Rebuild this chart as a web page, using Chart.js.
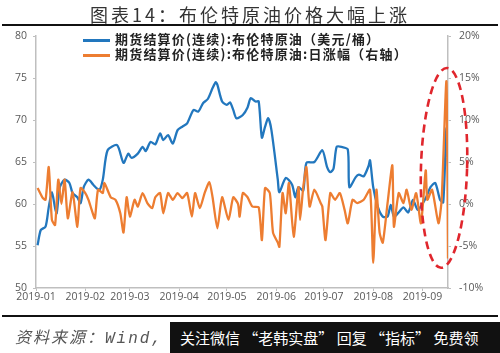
<!DOCTYPE html>
<html>
<head>
<meta charset="utf-8">
<script src="https://cdn.jsdelivr.net/npm/chart.js@4.4.0/dist/chart.umd.min.js"></script>
<style>
body { margin: 0; background: #fff; }
#wrap { position: relative; width: 500px; height: 353px; overflow: hidden; background: #fff; }
#chart { position: absolute; left: 0; top: 0; }
.title { position: absolute; left: 0; width: 500px; top: 1px; text-align: center; font: 18px "Noto Sans CJK SC"; letter-spacing: 3px; color: #333; }
.rule { position: absolute; left: 2px; width: 496px; height: 2px; background: #111; }
.legend { position: absolute; left: 83px; font: bold 13px "Noto Sans CJK SC"; letter-spacing: 1.2px; color: #222; line-height: 15px; }
.legend span.swatch { display: inline-block; width: 27px; height: 2.5px; vertical-align: middle; margin-right: 5px; }
.source { position: absolute; left: 15px; top: 324px; font: italic 16px "Liberation Mono", "Noto Sans CJK SC"; letter-spacing: 2px; color: #555; }
.mark { position: absolute; left: 170px; top: 322px; width: 330px; height: 31px; background: #111; color: #fff; font: 15px "Noto Sans CJK SC"; line-height: 31px; padding-left: 10px; box-sizing: border-box; white-space: nowrap; }
</style>
</head>
<body>
<div id="wrap">
  <canvas id="chart" width="500" height="353"></canvas>
  <div class="title">图表14：布伦特原油价格大幅上涨</div>
  <div class="rule" style="top:24px"></div>
  <div class="legend" style="top:31px"><span class="swatch" style="background:#2277be"></span>期货结算价(连续):布伦特原油（美元/桶）</div>
  <div class="legend" style="top:46px"><span class="swatch" style="background:#ed7d31"></span>期货结算价(连续):布伦特原油:日涨幅（右轴）</div>
  <div class="rule" style="top:315px"></div>
  <div class="source">资料来源：Wind,</div>
  <div class="mark">关注微信 “老韩实盘” 回复 “指标” 免费领</div>
</div>
<script>
// days counted from 2019-01-01
const monthStarts = [0, 31, 59, 90, 120, 151, 181, 212, 243];
const monthLabels = ['2019-01', '2019-02', '2019-03', '2019-04', '2019-05', '2019-06', '2019-07', '2019-08', '2019-09'];

// Brent settle price, USD/bbl (left axis)
const priceDays = [1, 3, 6, 8, 10, 12, 13, 15, 18, 21,
    23, 26, 28, 30, 33, 36, 38, 40, 42, 45,
    51, 55, 58, 60, 64, 67, 69, 72, 75, 78,
    80, 83, 86, 89, 92, 95, 99, 102, 105, 108,
    111, 113, 114, 117, 120, 122, 124, 126, 130, 133,
    135, 138, 140, 142, 144, 146, 148, 152, 153, 157,
    161, 163, 165, 168, 170, 175, 180, 183, 185, 187,
    189, 192, 196, 197, 201, 203, 206, 209, 210, 212,
    215, 218, 221, 223, 225, 228, 231, 234, 237, 240,
    245, 248, 251, 254, 256, 258, 259];
const price = [55.1, 56.9, 57.3, 59.6, 61.4, 59.5, 58.9, 62.0, 62.9, 62.5,
    61.3, 60.8, 60.1, 62.0, 62.9, 62.3, 61.9, 61.7, 62.9, 66.4,
    67.0, 64.9, 66.0, 65.5, 66.0, 66.8, 66.3, 67.4, 67.1, 68.4,
    67.6, 68.2, 67.2, 68.8, 69.2, 69.6, 71.2, 71.0, 72.0, 72.5,
    73.8, 74.5, 74.2, 72.2, 71.8, 72.1, 71.2, 70.2, 70.6, 71.5,
    72.6, 72.2, 72.2, 67.9, 69.2, 70.2, 68.8, 62.9, 61.4, 63.1,
    62.3, 60.8, 62.0, 61.6, 64.9, 65.0, 66.4, 64.4, 63.8, 64.2,
    66.8, 66.8, 66.5, 62.0, 63.2, 63.5, 63.3, 64.5, 65.2, 62.0,
    59.6, 58.5, 58.5, 59.9, 58.5, 59.0, 59.6, 59.0, 60.5, 59.3,
    60.7, 62.0, 62.5, 60.5, 60.2, 69.0, 64.5];

// daily change, % (right axis)
const changeDays = [1, 4, 6, 8, 10, 12, 14, 16, 18, 20,
    23, 26, 28, 31, 33, 35, 37, 39, 42, 43,
    47, 50, 53, 55, 57, 59, 62, 64, 67, 70,
    73, 75, 78, 80, 83, 86, 89, 92, 95, 98,
    100, 103, 106, 109, 111, 114, 117, 121, 124, 127,
    128, 130, 133, 136, 140, 142, 144, 147, 149, 152,
    153, 155, 157, 159, 162, 165, 166, 168, 170, 172,
    175, 179, 180, 182, 185, 188, 191, 194, 196, 199,
    202, 206, 210, 212, 214, 216, 218, 221, 224, 225,
    228, 231, 233, 236, 239, 242, 245, 246, 249, 253,
    255, 258, 259];
const change = [1.9, 0.8, 0.5, 4.4, -1.9, -2.5, 2.9, 0.0, 2.9, -1.7,
    1.4, -2.7, 1.9, 1.3, 0.5, -0.7, -1.7, 1.7, 1.3, 2.5,
    0.8, 0.5, -1.1, -3.4, 0.8, -1.5, 0.5, -0.3, 1.3, 0.1,
    -0.5, 0.8, 1.3, -1.1, 1.3, 0.5, 1.3, 0.7, 1.3, -1.5,
    1.3, -0.5, 1.3, 2.6, 0.8, -2.9, 0.8, -1.9, 0.8, 0.0,
    -1.5, 1.3, 0.8, -0.3, -0.4, -4.3, 1.9, 1.3, -3.4, -4.6,
    -5.1, 1.3, -1.1, 2.5, -3.9, 2.0, -1.9, 2.0, 4.4, -0.3,
    1.7, 0.1, -0.3, -4.3, 1.3, 0.5, 1.3, -0.7, -2.3, 0.5,
    0.1, 0.5, 1.7, -7.0, 1.7, -3.4, -4.6, 0.1, 4.6, -2.7,
    1.3, 0.1, 1.7, -0.7, 1.3, -2.3, 4.0, 0.5, 1.7, -2.3,
    0.5, 14.6, -6.5];

// red dashed ring around the September jump (in data units)
const ring = { dayFrom: 242, dayTo: 271, priceFrom: 52.4, priceTo: 76.2 };

const axisGrey = '#bfbfbf';
const tickFont = { family: 'Open Sans', size: 10.5 };

const ringPlugin = {
    id: 'ring',
    afterDatasetsDraw(chart) {
        const { ctx, scales } = chart;
        const x0 = scales.x.getPixelForValue(ring.dayFrom);
        const x1 = scales.x.getPixelForValue(ring.dayTo);
        const y0 = scales.y.getPixelForValue(ring.priceTo);
        const y1 = scales.y.getPixelForValue(ring.priceFrom);
        ctx.save();
        ctx.strokeStyle = '#e0262d';
        ctx.lineWidth = 2.6;
        ctx.setLineDash([8, 5]);
        ctx.beginPath();
        ctx.ellipse((x0 + x1) / 2, (y0 + y1) / 2, (x1 - x0) / 2, (y1 - y0) / 2, 0.03, 0, Math.PI * 2);
        ctx.stroke();
        ctx.restore();
    }
};

new Chart(document.getElementById('chart'), {
    type: 'line',
    data: {
        datasets: [
            {
                label: '期货结算价(连续):布伦特原油（美元/桶）',
                data: priceDays.map((d, i) => ({ x: d, y: price[i] })),
                borderColor: '#2277be',
                borderWidth: 2.3,
                pointRadius: 0,
                tension: 0.25,
                yAxisID: 'y',
                order: 2
            },
            {
                label: '期货结算价(连续):布伦特原油:日涨幅（右轴）',
                data: changeDays.map((d, i) => ({ x: d, y: change[i] })),
                borderColor: '#ed7d31',
                borderWidth: 2.3,
                pointRadius: 0,
                tension: 0.2,
                yAxisID: 'y2',
                order: 1
            }
        ]
    },
    options: {
        responsive: false,
        animation: false,
        layout: { padding: { top: 36 } },
        plugins: { legend: { display: false }, tooltip: { enabled: false } },
        scales: {
            x: {
                type: 'linear',
                min: 0,
                max: 259,
                afterBuildTicks: scale => { scale.ticks = monthStarts.map(v => ({ value: v })); },
                afterFit: scale => { scale.height = 65; },
                ticks: {
                    autoSkip: false, maxRotation: 0, padding: 0,
                    color: '#595959', font: tickFont,
                    callback: (v, i) => monthLabels[i]
                },
                grid: { drawOnChartArea: false, tickLength: 3, color: axisGrey },
                border: { color: axisGrey, width: 1.5 }
            },
            y: {
                position: 'left',
                min: 50, max: 80,
                afterFit: scale => { scale.width = 36; },
                ticks: { stepSize: 5, padding: 6, color: '#595959', font: tickFont },
                grid: { drawOnChartArea: false, tickLength: 3, color: axisGrey },
                border: { color: axisGrey, width: 1.5 }
            },
            y2: {
                position: 'right',
                min: -10, max: 20,
                afterFit: scale => { scale.width = 52; },
                ticks: { stepSize: 5, padding: 8, color: '#595959', font: tickFont, callback: v => v + '%' },
                grid: { drawOnChartArea: false, tickLength: 3, color: axisGrey },
                border: { color: axisGrey, width: 1.5 }
            }
        }
    },
    plugins: [ringPlugin]
});
</script>
</body>
</html>
